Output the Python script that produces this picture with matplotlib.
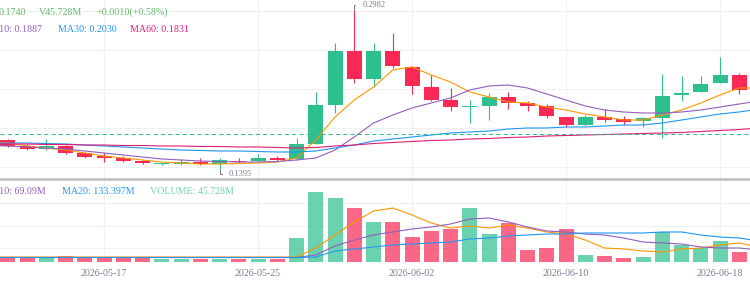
import numpy as np
import pandas as pd
import matplotlib
matplotlib.use('Agg')
import matplotlib.pyplot as plt
from matplotlib.lines import Line2D

plt.rcParams['font.family'] = ['Liberation Serif', 'DejaVu Serif']

# daily candles, 2026-05-11 .. 2026-06-20 (first and last only partly in view)
dates = pd.date_range('2026-05-11', '2026-06-20', freq='D')
opens = [0.1690, 0.1682, 0.1622, 0.1592, 0.1622, 0.1552, 0.1522, 0.1502, 0.1472, 0.1442, 0.1442,
         0.1462, 0.1442, 0.1472, 0.1472, 0.1502, 0.1492, 0.1642, 0.2032, 0.2572, 0.2292,
         0.2572, 0.2412, 0.2212, 0.2082, 0.2010, 0.2022, 0.2112, 0.2052, 0.2022, 0.1912,
         0.1832, 0.1912, 0.1892, 0.1872, 0.1902, 0.2132, 0.2162, 0.2252, 0.2332, 0.2182]
closes = [0.1682, 0.1622, 0.1592, 0.1622, 0.1552, 0.1512, 0.1502, 0.1472, 0.1452, 0.1445, 0.1462,
          0.1442, 0.1482, 0.1462, 0.1502, 0.1482, 0.1642, 0.2032, 0.2572, 0.2292, 0.2572,
          0.2422, 0.2222, 0.2082, 0.2012, 0.2014, 0.2112, 0.2052, 0.2022, 0.1922, 0.1832,
          0.1912, 0.1882, 0.1862, 0.1902, 0.2122, 0.2152, 0.2242, 0.2332, 0.2182, 0.2152]
highs = [0.1700, 0.1692, 0.1642, 0.1692, 0.1632, 0.1562, 0.1552, 0.1522, 0.1482, 0.1449, 0.1492,
         0.1502, 0.1502, 0.1502, 0.1542, 0.1522, 0.1702, 0.2162, 0.2652, 0.2982, 0.2652,
         0.2752, 0.2422, 0.2332, 0.2202, 0.2082, 0.2152, 0.2162, 0.2072, 0.2042, 0.1912,
         0.1932, 0.1992, 0.1922, 0.1912, 0.2342, 0.2322, 0.2322, 0.2512, 0.2352, 0.2192]
lows = [0.1675, 0.1612, 0.1582, 0.1582, 0.1542, 0.1507, 0.1462, 0.1462, 0.1442, 0.1432, 0.1437,
        0.1432, 0.1395, 0.1452, 0.1472, 0.1472, 0.1482, 0.1642, 0.1952, 0.2252, 0.2212,
        0.2402, 0.2142, 0.2072, 0.1972, 0.1852, 0.1882, 0.1992, 0.1972, 0.1902, 0.1812,
        0.1822, 0.1862, 0.1832, 0.1812, 0.1702, 0.2072, 0.2162, 0.2252, 0.2142, 0.2132]
volumes = [26, 26, 26, 26, 36, 26, 26, 26, 26, 21, 21,
           21, 21, 18, 18, 18, 144, 420, 384, 324, 240,
           240, 150, 186, 198, 324, 168, 234, 72, 84, 198,
           42, 36, 24, 30, 180, 102, 84, 126, 60, 36]  # millions

ma5 = [0.1662, 0.1652, 0.1622, 0.1602, 0.1582, 0.1552, 0.1522, 0.1502, 0.1482, 0.1462, 0.1452,
       0.1442, 0.1442, 0.1447, 0.1452, 0.1462, 0.1502, 0.1682, 0.1912, 0.2082, 0.2212,
       0.2382, 0.2412, 0.2332, 0.2262, 0.2162, 0.2112, 0.2062, 0.2052, 0.2012, 0.1982,
       0.1942, 0.1912, 0.1882, 0.1882, 0.1932, 0.1982, 0.2052, 0.2132, 0.2202, 0.2202]
ma10 = [0.1627, 0.1622, 0.1612, 0.1602, 0.1592, 0.1572, 0.1552, 0.1532, 0.1512, 0.1492, 0.1482,
        0.1472, 0.1467, 0.1462, 0.1462, 0.1467, 0.1482, 0.1502, 0.1582, 0.1712, 0.1852,
        0.1932, 0.2002, 0.2052, 0.2102, 0.2182, 0.2222, 0.2232, 0.2202, 0.2142, 0.2082,
        0.2022, 0.1982, 0.1962, 0.1952, 0.1952, 0.1962, 0.1982, 0.2012, 0.2042, 0.2072]
ma30 = [0.1652, 0.1652, 0.1652, 0.1647, 0.1642, 0.1632, 0.1622, 0.1612, 0.1602, 0.1592, 0.1582,
        0.1577, 0.1572, 0.1572, 0.1567, 0.1562, 0.1562, 0.1572, 0.1602, 0.1632, 0.1672,
        0.1692, 0.1712, 0.1732, 0.1752, 0.1762, 0.1772, 0.1792, 0.1802, 0.1802, 0.1812,
        0.1812, 0.1822, 0.1832, 0.1832, 0.1852, 0.1882, 0.1912, 0.1942, 0.1962, 0.1992]
ma60 = [0.1642, 0.1642, 0.1642, 0.1637, 0.1637, 0.1632, 0.1632, 0.1627, 0.1627, 0.1622, 0.1622,
        0.1617, 0.1617, 0.1612, 0.1612, 0.1607, 0.1602, 0.1607, 0.1622, 0.1632, 0.1647,
        0.1657, 0.1667, 0.1677, 0.1682, 0.1692, 0.1697, 0.1707, 0.1712, 0.1722, 0.1727,
        0.1732, 0.1737, 0.1742, 0.1747, 0.1752, 0.1757, 0.1767, 0.1777, 0.1787, 0.1802]

vol_ma5 = [30, 30, 30, 30, 30, 30, 30, 30, 30, 30, 30,
           30, 30, 30, 30, 30, 30, 84, 162, 240, 306,
           324, 282, 234, 204, 216, 204, 222, 204, 180, 168,
           132, 84, 78, 66, 60, 78, 84, 102, 114, 90]
vol_ma10 = [27, 27, 27, 27, 27, 27, 27, 27, 27, 27, 27,
            27, 27, 27, 27, 27, 27, 42, 96, 132, 162,
            180, 198, 210, 228, 258, 264, 240, 210, 186, 180,
            168, 162, 144, 120, 114, 108, 90, 84, 84, 72]
vol_ma20 = [27, 27, 27, 27, 27, 27, 27, 27, 27, 27, 27,
            27, 27, 27, 27, 27, 27, 30, 66, 78, 90,
            102, 108, 114, 120, 138, 144, 156, 162, 168, 168,
            174, 174, 174, 174, 180, 180, 162, 150, 144, 126]

last_price = 0.1740
tick_dates = ['2026-05-17', '2026-05-25', '2026-06-02', '2026-06-10', '2026-06-18']
price_grid = [0.2972, 0.2582, 0.2192, 0.1802, 0.1412]
vol_grid = [84, 219, 354]

UP = '#2DC08E'
DOWN = '#F92855'
C_MA = ['#FF9600', '#935EBD', '#2196F3', '#E11D74']
GRID = '#F0F0F0'
GRAY = '#76808F'

W, H = 750, 284
fig = plt.figure(figsize=(W / 100, H / 100), dpi=100)

def fy(py):
    return 1 - py / H

ax = fig.add_axes([0, fy(178), 1, 178 / H])
axv = fig.add_axes([0, fy(262), 1, 82 / H])

x = np.arange(len(dates))
o = np.array(opens); c = np.array(closes)
up = c >= o
cols = np.where(up, UP, DOWN)
xl = (0.597, 39.558)

# grid
for p in price_grid:
    ax.axhline(p, color=GRID, lw=0.8, zorder=0)
for v in vol_grid:
    axv.axhline(v, color=GRID, lw=0.8, zorder=0)
tick_idx = [list(dates.strftime('%Y-%m-%d')).index(d) for d in tick_dates]
for t in tick_idx:
    ax.axvline(t, color=GRID, lw=0.8, zorder=0)
    axv.axvline(t, color=GRID, lw=0.8, zorder=0)

# candles
ax.vlines(x, lows, highs, colors=cols, lw=0.8, zorder=2)
ax.bar(x, np.maximum(np.abs(c - o), 0.0008), bottom=np.minimum(o, c), width=0.78,
       color=cols, zorder=3)

for vals, col in zip([ma5, ma10, ma30, ma60], C_MA):
    ax.plot(x, vals, color=col, lw=0.8, zorder=4)

ax.axhline(last_price, color=UP, lw=0.75, ls=(0, (4, 3)), zorder=5)

# highest / lowest marks
hi = int(np.argmax(highs)); lo = int(np.argmin(lows))
ax.annotate(f'{highs[hi]:.4f}', xy=(hi, highs[hi]), xytext=(8, 5), textcoords='offset pixels',
            ha='left', va='center', fontsize=6, color=GRAY,
            arrowprops=dict(arrowstyle='-', color=GRAY, lw=0.7, shrinkA=3, shrinkB=0,
                            relpos=(0, 0.5), connectionstyle='angle,angleA=0,angleB=90,rad=0'))
ax.annotate(f'{lows[lo]:.4f}', xy=(lo, lows[lo]), xytext=(9, -5), textcoords='offset pixels',
            ha='left', va='center', fontsize=6, color=GRAY,
            arrowprops=dict(arrowstyle='-', color=GRAY, lw=0.7, shrinkA=3, shrinkB=0,
                            relpos=(0, 0.5), connectionstyle='angle,angleA=0,angleB=90,rad=0'))

ax.set_xlim(*xl)
ax.set_ylim(0.1302, 0.3082)

# volume pane
axv.bar(x, volumes, width=0.78, color=cols, alpha=0.7, zorder=2)
for vals, col in zip([vol_ma5, vol_ma10, vol_ma20], C_MA[:3]):
    axv.plot(x, vals, color=col, lw=0.8, zorder=4)
axv.set_xlim(*xl)
axv.set_ylim(0, 492)
axv.set_xticks(tick_idx)
axv.set_xticklabels(tick_dates)
axv.tick_params(axis='x', length=0, pad=5, labelsize=7.2, labelcolor=GRAY)
axv.set_yticks([])
ax.set_xticks([]); ax.set_yticks([])

for a in (ax, axv):
    for s in a.spines.values():
        s.set_visible(False)
    a.patch.set_alpha(0)

# pane separator
fig.add_artist(Line2D([0, 1], [fy(178.5), fy(178.5)], color='#BDBDBD', lw=1.8))

# legends (the chart is cropped on the left, so the first items run past the edge)
def legend(px, py, s, col):
    fig.text(px / W, fy(py), s, color=col, fontsize=7.2, ha='left', va='center')

legend(-1.5, 12.5, f'{last_price:.4f}', '#62BA6A')
legend(39, 12.5, 'V45.728M', '#62BA6A')
legend(96, 12.5, '+0.0010(+0.58%)', '#62BA6A')
legend(-17, 29.5, 'MA10: 0.1887', C_MA[1])
legend(58, 29.5, 'MA30: 0.2030', C_MA[2])
legend(130, 29.5, 'MA60: 0.1831', C_MA[3])
legend(-17, 192, 'MA10: 69.09M', C_MA[1])
legend(62, 192, 'MA20: 133.397M', C_MA[2])
legend(150, 192, 'VOLUME: 45.728M', '#6FD3B0')

fig.savefig('out.png', dpi=100)
